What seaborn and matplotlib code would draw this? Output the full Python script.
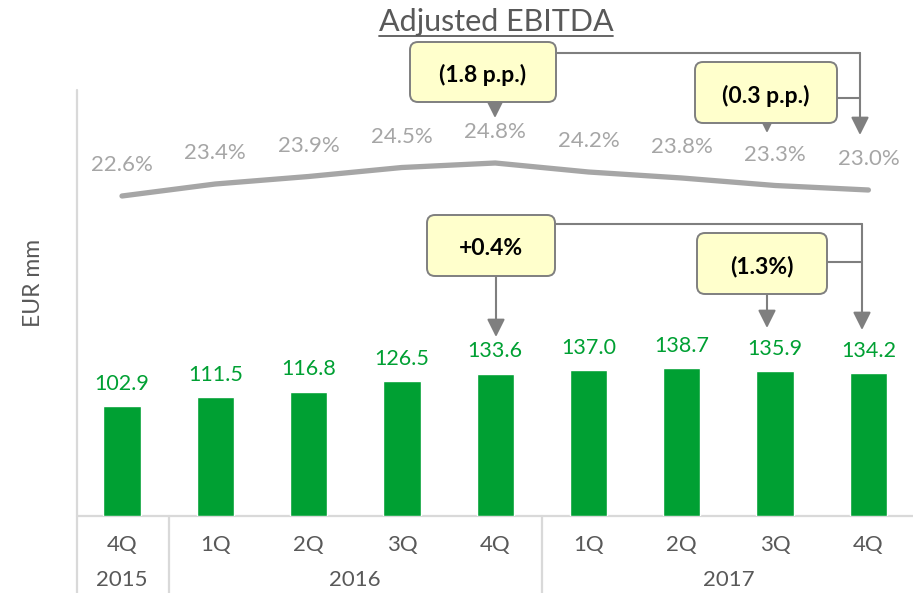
"""
Adjusted EBITDA chart: quarterly bars (EUR mm) with the margin line on top
"""

import numpy as np
import pandas as pd
import matplotlib
matplotlib.use("Agg")
import matplotlib.pyplot as plt
import seaborn as sns
from matplotlib.patches import FancyBboxPatch, FancyArrowPatch
from matplotlib.lines import Line2D

# data
quarters = ["4Q", "1Q", "2Q", "3Q", "4Q", "1Q", "2Q", "3Q", "4Q"]
years = ["2015", "2016", "2016", "2016", "2016", "2017", "2017", "2017", "2017"]
ebitda = [102.9, 111.5, 116.8, 126.5, 133.6, 137.0, 138.7, 135.9, 134.2]
margin = [22.6, 23.4, 23.9, 24.5, 24.8, 24.2, 23.8, 23.3, 23.0]
year_labels = ["2015", "2016", "2017"]
year_span = [(0, 0), (1, 4), (5, 8)]
callouts = ["(1.8 p.p.)", "(0.3 p.p.)", "+0.4%", "(1.3%)"]

GREEN = "#00A033"
LINE_GREY = "#A6A6A6"
TEXT_GREY = "#595959"
AXIS_GREY = "#D9D9D9"
ARROW_GREY = "#7F7F7F"
BOX_FILL = "#FFFFCC"

sns.set_theme(style="white")
plt.rcParams["font.family"] = ["Lato", "DejaVu Sans"]

W, H = 913, 593
fig = plt.figure(figsize=(W / 100, H / 100), dpi=100)
ax = fig.add_axes([77 / W, 77 / H, 836 / W, 516 / H])

df = pd.DataFrame({
    "period": [f"{q} {y}" for q, y in zip(quarters, years)],
    "ebitda": ebitda,
    "margin": margin,
})

# bars
sns.barplot(data=df, x="period", y="ebitda", color=GREEN, width=0.40,
            saturation=1, ax=ax, zorder=2)
ax.set_xlim(-45 / 93.3, (836 - 45) / 93.3)
ax.set_ylim(0, 516 / 1.065)
for i, v in enumerate(ebitda):
    ax.annotate(f"{v:.1f}", (i, v), xytext=(0, 16), textcoords="offset points",
                ha="center", va="center", color=GREEN, fontsize=15.5)

# margin line on its own scale
ax2 = ax.twinx()
lo = 22.6 - 320 / 15
ax2.set_ylim(lo, lo + 516 / 15)
sns.lineplot(x=np.arange(len(margin)), y=margin, ax=ax2, color=LINE_GREY,
             linewidth=3.8, solid_capstyle="round", solid_joinstyle="round")
for i, m in enumerate(margin):
    ax2.annotate(f"{m:.1f}%", (i, m), xytext=(0, 22), textcoords="offset points",
                 ha="center", va="center", color=LINE_GREY, fontsize=16)

for a in (ax, ax2):
    for s in a.spines.values():
        s.set_visible(False)
    a.set_yticks([])
    a.set_ylabel("")
ax.set_xlabel("")
ax.set_xticks([])

# axis lines and category labels
ax.axhline(0, color=AXIS_GREY, lw=1.6, zorder=1, clip_on=False)
fig.add_artist(Line2D([77 / W, 77 / W], [0, (H - 90) / H], transform=fig.transFigure,
                      color=AXIS_GREY, lw=1.6))
xt = ax.get_xaxis_transform()
for sep in (0.5, 4.5):
    ax.plot([sep, sep], [0, -77 / 516], transform=xt, color=AXIS_GREY, lw=1.6,
            clip_on=False)
for i, q in enumerate(quarters):
    ax.text(i, -29 / 516, q, transform=xt, ha="center", va="center",
            color=TEXT_GREY, fontsize=16)
for lab, (a0, a1) in zip(year_labels, year_span):
    ax.text((a0 + a1) / 2, -64 / 516, lab, transform=xt, ha="center", va="center",
            color=TEXT_GREY, fontsize=16)

fig.text(34 / W, 1 - 283 / H, "EUR mm", rotation=90, ha="center", va="center",
         color=TEXT_GREY, fontsize=16.5)

# title with underline
title = fig.text(496 / W, 1 - 22 / H, "Adjusted EBITDA", ha="center", va="center",
                 color=TEXT_GREY, fontsize=22)
fig.canvas.draw()
bb = title.get_window_extent()
fig.add_artist(Line2D([bb.x0 / W, bb.x1 / W], [(H - 36) / H, (H - 36) / H],
                      transform=fig.transFigure, color=TEXT_GREY, lw=1.3))

# callouts, laid out in image pixels
tr = fig.dpi_scale_trans


def P(x, y):
    return (x / 100, (H - y) / 100)


def box(x0, y0, x1, y1, text):
    fig.add_artist(FancyBboxPatch(P(x0, y1), (x1 - x0) / 100, (y1 - y0) / 100,
                                  boxstyle="round,pad=0,rounding_size=0.08",
                                  transform=tr, facecolor=BOX_FILL,
                                  edgecolor=ARROW_GREY, lw=1.4, zorder=5))
    cx, cy = P((x0 + x1) / 2, (y0 + y1) / 2 + 3)
    fig.text(cx / (W / 100), cy / (H / 100), text, ha="center", va="center",
             fontsize=16.5, fontweight="bold", color="black", zorder=6)


def arrow(x, y0, y1):
    fig.add_artist(FancyArrowPatch(P(x, y0), P(x, y1), transform=tr,
                                   arrowstyle="-|>,head_length=1.08,head_width=0.54",
                                   mutation_scale=10, color=ARROW_GREY, lw=1.5,
                                   shrinkA=0, shrinkB=0, zorder=4))


def elbow(xs, ys):
    fig.add_artist(Line2D([x / W for x in xs], [(H - y) / H for y in ys],
                          transform=fig.transFigure, color=ARROW_GREY, lw=1.5,
                          zorder=4))


# margin change callouts
elbow([556, 860], [53, 53])
elbow([837, 860], [98, 98])
arrow(860, 53, 135)
arrow(495, 72, 118)
arrow(767, 92, 133)
box(410, 42, 556, 102, callouts[0])
box(695, 62, 837, 123, callouts[1])

# EBITDA change callouts
elbow([555, 862], [224, 224])
elbow([827, 862], [262, 262])
arrow(862, 224, 330)
arrow(496, 246, 337)
arrow(767, 263, 328)
box(427, 215, 555, 276, callouts[2])
box(697, 233, 827, 294, callouts[3])

fig.savefig("out.png", dpi=100)
